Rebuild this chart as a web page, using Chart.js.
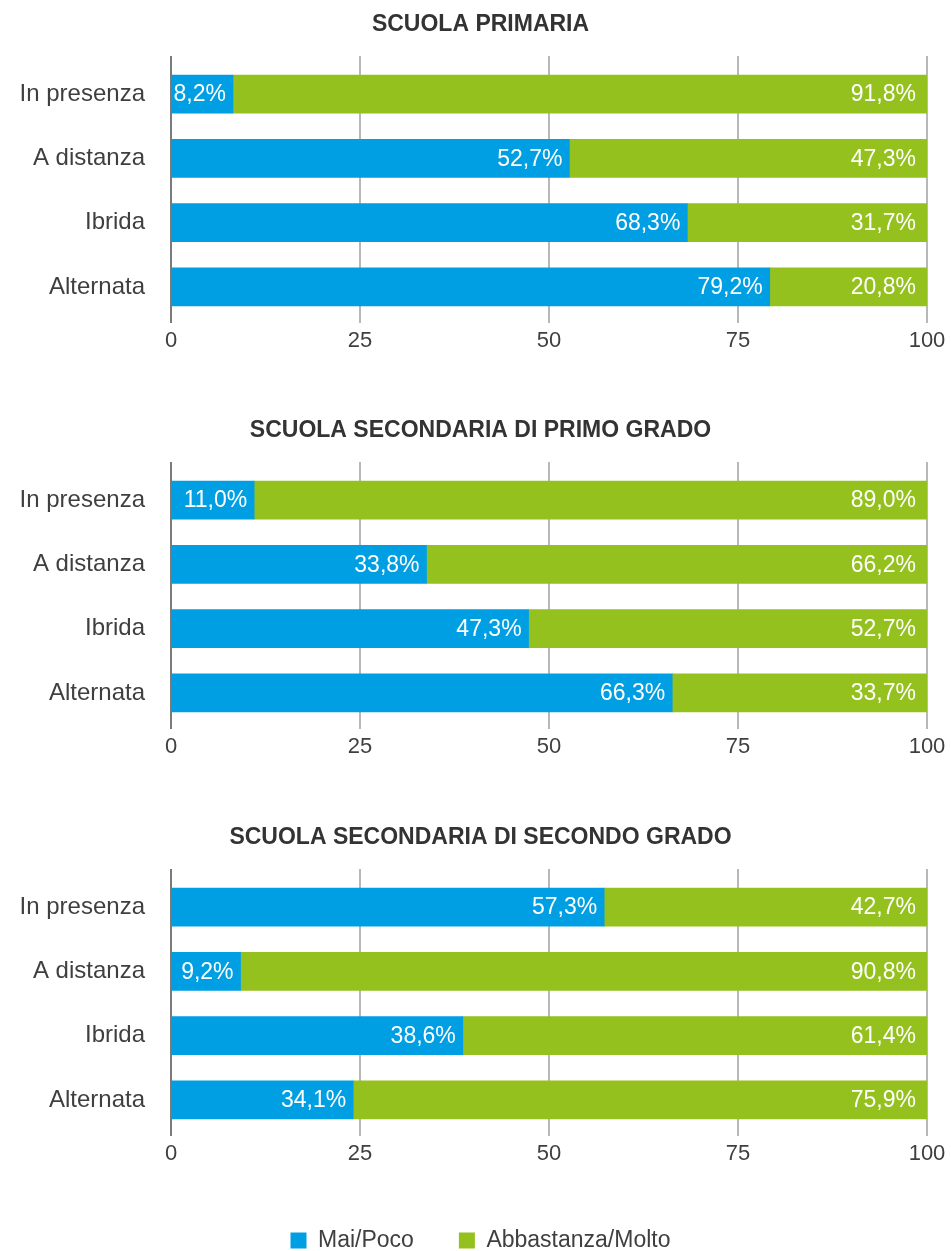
<!DOCTYPE html>
<html><head><meta charset="utf-8">
<script src="https://cdn.jsdelivr.net/npm/chart.js@4.4.1/dist/chart.umd.min.js"></script>
<style>
html,body{margin:0;padding:0;overflow:hidden;background:#fff;width:951px;height:1251px;}
.box{position:absolute;left:0;width:951px;}
</style></head><body>
<div class="box" style="top:0;height:380px"><canvas id="c1"></canvas></div>
<div class="box" style="top:406px;height:380px"><canvas id="c2"></canvas></div>
<div class="box" style="top:813px;height:449px"><canvas id="c3"></canvas></div>
<script>
// ---- data ----
const categories = ['In presenza', 'A distanza', 'Ibrida', 'Alternata'];
const seriesNames = ['Mai/Poco', 'Abbastanza/Molto'];
const xTicks = [0, 25, 50, 75, 100];

const titlePrimaria = 'SCUOLA PRIMARIA';
const primariaMaiPoco = [8.2, 52.7, 68.3, 79.2];
const primariaAbbastanza = [91.8, 47.3, 31.7, 20.8];

const titlePrimoGrado = 'SCUOLA SECONDARIA DI PRIMO GRADO';
const primoGradoMaiPoco = [11.0, 33.8, 47.3, 66.3];
const primoGradoAbbastanza = [89.0, 66.2, 52.7, 33.7];

const titleSecondoGrado = 'SCUOLA SECONDARIA DI SECONDO GRADO';
const secondoGradoMaiPoco = [57.3, 9.2, 38.6, 24.1];
const secondoGradoAbbastanza = [42.7, 90.8, 61.4, 75.9];
// printed labels as they appear in the source (last one differs from the bar length)
const secondoGradoMaiPocoLabels = ['57,3%', '9,2%', '38,6%', '34,1%'];

// ---- styling ----
const FONT = '"Liberation Sans", Arial, sans-serif';
const BLUE = '#009FE3', GREEN = '#95C11F';
const TEXT = '#3f3f3f';

function fmt(v) { return v.toFixed(1).replace('.', ',') + '%'; }

const barLabels = {
  id: 'barLabels',
  afterDatasetsDraw(chart) {
    const ctx = chart.ctx;
    ctx.save();
    ctx.font = '23px ' + FONT;
    ctx.fillStyle = '#ffffff';
    ctx.textAlign = 'right';
    ctx.textBaseline = 'middle';
    chart.data.datasets.forEach((ds, di) => {
      const meta = chart.getDatasetMeta(di);
      meta.data.forEach((bar, i) => {
        const txt = ds.valueLabels ? ds.valueLabels[i] : fmt(ds.data[i]);
        ctx.fillText(txt, bar.x - ds.labelInset, bar.y + 1);
      });
    });
    ctx.restore();
  }
};

// center title and legend slightly to the right, as in the source
const shiftBlocks = {
  id: 'shiftBlocks',
  afterLayout(chart) {
    if (chart.titleBlock) chart.titleBlock.left = 34;
    if (chart.legend && chart.options.plugins.legend.display) chart.legend.left = 34;
  }
};

function gridColor(c) { return (c.tick && c.tick.value === 0) ? '#7a7a7a' : '#b8b8b8'; }

function makeChart(id, title, blue, green, blueLabels, withLegend) {
  const axisH = withLegend ? 52 : 61;
  return new Chart(document.getElementById(id), {
    type: 'bar',
    data: {
      labels: categories,
      datasets: [
        { label: seriesNames[0], data: blue, backgroundColor: BLUE, barThickness: 38,
          valueLabels: blueLabels, labelInset: 7 },
        { label: seriesNames[1], data: green, backgroundColor: GREEN, barThickness: 38,
          labelInset: 11 }
      ]
    },
    options: {
      indexAxis: 'y',
      responsive: true,
      maintainAspectRatio: false,
      animation: false,
      layout: { padding: { left: 0, right: 24, top: 0, bottom: 0 } },
      plugins: {
        title: {
          display: true, text: title, color: '#333',
          font: { family: FONT, size: 23, weight: 'bold', lineHeight: 1.2 },
          padding: { top: 11, bottom: 17.4 }
        },
        legend: {
          display: withLegend, position: 'bottom',
          labels: { font: { family: FONT, size: 23 }, color: TEXT, boxWidth: 16, boxHeight: 16, padding: 45 }
        },
        tooltip: { enabled: false }
      },
      scales: {
        x: {
          stacked: true, min: 0, max: 100,
          afterBuildTicks(s) { s.ticks = xTicks.map(v => ({ value: v })); },
          afterFit(s) { s.height = axisH; },
          border: { display: false },
          grid: { color: gridColor, lineWidth: 2, drawTicks: true, tickLength: 4 },
          ticks: { color: TEXT, font: { family: FONT, size: 22 }, padding: 5 }
        },
        x2: {
          axis: 'x', position: 'top', min: 0, max: 100,
          afterBuildTicks(s) { s.ticks = xTicks.map(v => ({ value: v })); },
          afterFit(s) { s.height = 6; },
          border: { display: false },
          grid: { color: gridColor, lineWidth: 2, drawOnChartArea: false, drawTicks: true, tickLength: 6 },
          ticks: { display: false }
        },
        y: {
          stacked: true,
          afterFit(s) { s.width = 171; },
          border: { display: false },
          grid: { display: false, drawTicks: false },
          ticks: { color: TEXT, font: { family: FONT, size: 24 }, padding: 26 }
        }
      }
    },
    plugins: [barLabels, shiftBlocks]
  });
}

makeChart('c1', titlePrimaria, primariaMaiPoco, primariaAbbastanza, null, false);
makeChart('c2', titlePrimoGrado, primoGradoMaiPoco, primoGradoAbbastanza, null, false);
makeChart('c3', titleSecondoGrado, secondoGradoMaiPoco, secondoGradoAbbastanza, secondoGradoMaiPocoLabels, true);
</script>
</body></html>
